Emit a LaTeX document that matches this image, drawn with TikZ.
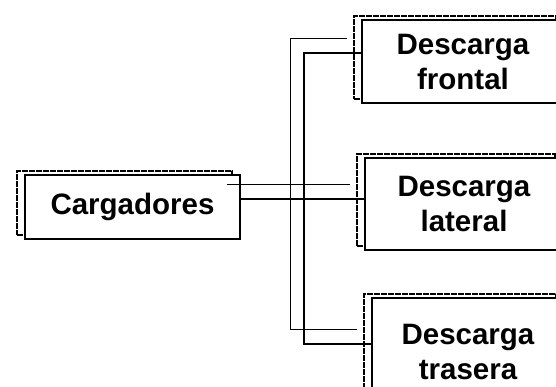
\documentclass[tikz,border=0pt]{standalone}
\usepackage{fontspec}
\setmainfont{Liberation Sans}
\usetikzlibrary{shadows,calc}

\tikzset{
  loadbox/.style={draw, line width=1.3pt, fill=white, align=center, inner sep=0pt,
    font=\bfseries\fontsize{29.5}{35}\selectfont,
    copy shadow={shadow xshift=-8pt, shadow yshift=4pt, draw=black, fill=white,
      line width=1.8pt, dash pattern=on 6pt off 1pt}},
}

\begin{document}
\begin{tikzpicture}[x=1pt,y=1pt]
    \useasboundingbox (0,0) rectangle (556,386);
    \clip (0,0) rectangle (556,386);

    % boxes
    \node[loadbox, minimum width=215pt, minimum height=64pt] (car) at (132.5,179) {Cargadores};
    \node[loadbox, minimum width=202pt, minimum height=83pt] (fr) at (463,324.5) {Descarga\\frontal};
    \node[loadbox, minimum width=198pt, minimum height=92pt] (lat) at (464,182) {Descarga\\lateral};
    \node[loadbox, minimum width=192pt, minimum height=108pt] (tr) at (468,34) {Descarga\\trasera};

    % branch points
    \coordinate (j) at (304,187);
    \coordinate (jt) at (304,333);
    \coordinate (jb) at (304,42);

    % lines (faint copy, then the real one)
\foreach \dx/\dy/\lw in {-14/15/0.7pt, 0/0/1.5pt}{
    \draw[line width=\lw] ($(car.east|-j)+(\dx,\dy)$) -- ($(lat.west|-j)+(\dx,\dy)$);
    \draw[line width=\lw] ($(fr.west|-jt)+(\dx,\dy)$) -- ($(jt)+(\dx,\dy)$)
        -- ($(jb)+(\dx,\dy)$) -- ($(tr.west|-jb)+(\dx,\dy)$);
}

\end{tikzpicture}
\end{document}
